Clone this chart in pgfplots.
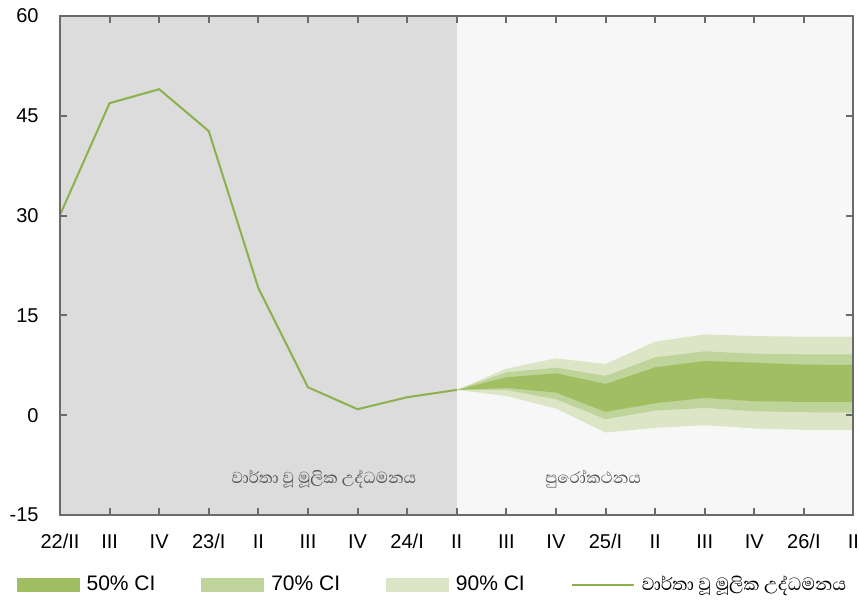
\documentclass[border=0pt]{standalone}
\usepackage{pgfplots}
\pgfplotsset{compat=1.18}
\usepackage{fontspec}
\setmainfont{Liberation Sans}
\newfontfamily\sinhala[Script=Sinhala]{Abhaya Libre}
\definecolor{bgdark}{HTML}{DCDCDC}
\definecolor{bglight}{HTML}{F7F7F7}
\definecolor{cfifty}{HTML}{A1BF62}
\definecolor{cseventy}{HTML}{BFD49A}
\definecolor{cninety}{HTML}{DCE6C7}
\definecolor{lineg}{HTML}{8CB04C}
\definecolor{framegray}{HTML}{6B6B6B}
\definecolor{labgray}{HTML}{555555}
\begin{document}
\begin{tikzpicture}
\begin{axis}[name=ax, scale only axis, width=396.75pt, height=249.5pt,
  xmin=0, xmax=16, ymin=-15, ymax=60,
  xtick={0,...,16},
  xticklabels={22/II,III,IV,23/I,II,III,IV,24/I,II,III,IV,25/I,II,III,IV,26/I,II},
  ytick={-15,0,15,30,45,60},
  tick align=inside, major tick length=3.5pt,
  axis line style={draw=framegray, line width=1pt},
  every tick/.style={draw=framegray, line width=1pt},
  tick label style={font=\fontsize{10}{12}\selectfont, text=black},
  /pgf/number format/assume math mode=true,
  yticklabel style={xshift=-7.2pt},
  xticklabel style={yshift=-6.2pt},
  axis on top,
  legend columns=4,
  legend style={draw=none, fill=none, inner sep=0pt, outer sep=0pt,
    at={(0,0)}, anchor=west, xshift=-21.6pt, yshift=-35pt,
    font=\fontsize{10.5}{12}\selectfont,
    /tikz/every odd column/.style={column sep=1.5pt},
    /tikz/every even column/.style={column sep=21pt}},
]
% backgrounds
\addplot[draw=none, fill=bgdark, forget plot] coordinates {(0,-15) (0,60) (8,60) (8,-15)} -- cycle;
\addplot[draw=none, fill=bglight, forget plot] coordinates {(8,-15) (8,60) (16,60) (16,-15)} -- cycle;
% 90% band
\addplot[draw=none, fill=cninety, forget plot] coordinates {
 (8,3.8) (9,7.0) (10,8.55) (11,7.7) (12,11.05) (13,12.15) (14,11.9) (15,11.8) (16,11.8)
 (16,-2.2) (15,-2.2) (14,-2.0) (13,-1.5) (12,-1.9) (11,-2.6) (10,1.0) (9,2.9)} -- cycle;
% 70% band
\addplot[draw=none, fill=cseventy, forget plot] coordinates {
 (8,3.8) (9,6.45) (10,7.15) (11,5.9) (12,8.7) (13,9.6) (14,9.25) (15,9.15) (16,9.15)
 (16,0.4) (15,0.45) (14,0.6) (13,1.1) (12,0.7) (11,-0.6) (10,2.4) (9,3.8)} -- cycle;
% 50% band
\addplot[draw=none, fill=cfifty, forget plot] coordinates {
 (8,3.8) (9,5.7) (10,6.3) (11,4.7) (12,7.2) (13,8.15) (14,7.9) (15,7.6) (16,7.55)
 (16,2.0) (15,2.0) (14,2.1) (13,2.6) (12,1.8) (11,0.5) (10,3.4) (9,4.1)} -- cycle;
% reported core inflation
\addplot[lineg, line width=1pt, forget plot] coordinates {
 (0,30.1) (1,46.9) (2,49.0) (3,42.7) (4,19.1) (5,4.2) (6,0.9) (7,2.7) (8,3.8)};
% legend
\addlegendimage{legend image code/.code={\fill[cfifty] (0pt,-3.4pt) rectangle (31pt,3.4pt);}}
\addlegendentry{50\% CI}
\addlegendimage{legend image code/.code={\fill[cseventy] (0pt,-3.4pt) rectangle (31pt,3.4pt);}}
\addlegendentry{70\% CI}
\addlegendimage{legend image code/.code={\fill[cninety] (0pt,-3.4pt) rectangle (31pt,3.4pt);}}
\addlegendentry{90\% CI}
\addlegendimage{legend image code/.code={\draw[lineg, line width=1pt] (0pt,0pt) -- (31pt,0pt);}}
\addlegendentry{{\sinhala\fontsize{11.3}{12}\selectfont වාර්තා වූ මූලික උද්ධමනය}}
\node[font=\sinhala\fontsize{10.2}{11}\selectfont, text=labgray] at (axis cs:5.32,-9.6) {වාර්තා වූ මූලික උද්ධමනය};
\node[font=\sinhala\fontsize{10.2}{11}\selectfont, text=labgray] at (axis cs:10.75,-9.6) {පුරෝකථනය};
\end{axis}
\pgfresetboundingbox
\path ([shift={(-30pt,-43pt)}]ax.south west) rectangle ([shift={(399.5pt,257.5pt)}]ax.south west);
\end{tikzpicture}
\end{document}
